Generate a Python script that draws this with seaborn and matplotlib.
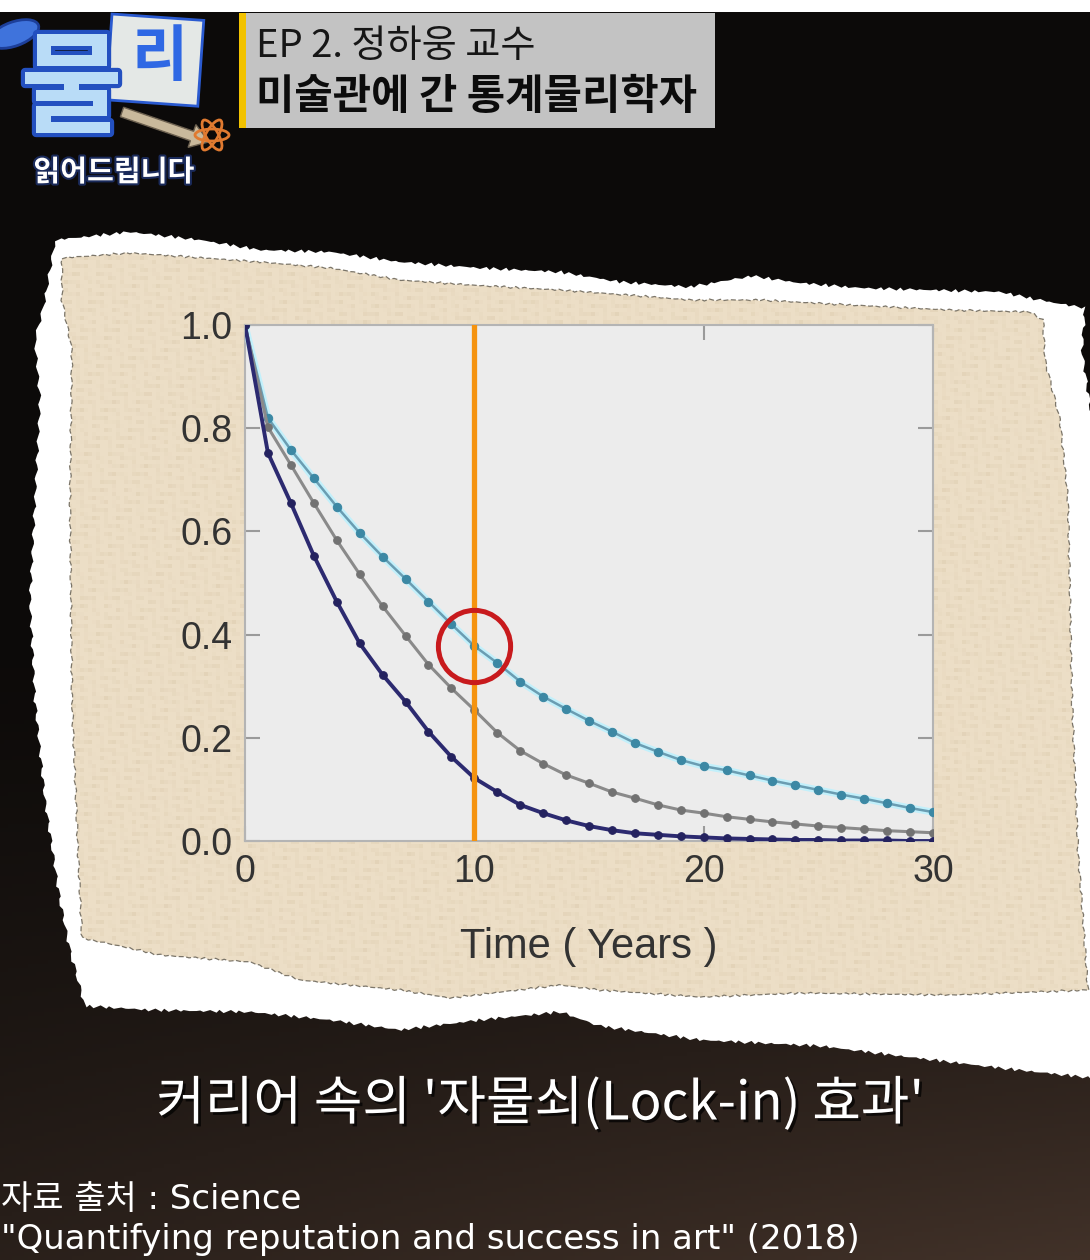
import numpy as np
import matplotlib.pyplot as plt
import matplotlib.patheffects as pe
from matplotlib.patches import Polygon, Rectangle, Ellipse, FancyArrow
import seaborn as sns

# 데이터
years = list(range(31))
light_blue = [1.0, 0.82, 0.758, 0.703, 0.648, 0.597, 0.551, 0.508, 0.464, 0.42,
              0.378, 0.345, 0.309, 0.28, 0.256, 0.233, 0.212, 0.19, 0.173, 0.157,
              0.145, 0.137, 0.127, 0.117, 0.108, 0.099, 0.09, 0.082, 0.073, 0.064, 0.056]
gray = [1.0, 0.802, 0.729, 0.655, 0.583, 0.517, 0.455, 0.398, 0.342, 0.296,
        0.254, 0.21, 0.175, 0.15, 0.128, 0.112, 0.095, 0.083, 0.07, 0.06,
        0.054, 0.047, 0.042, 0.037, 0.033, 0.029, 0.026, 0.023, 0.02, 0.018, 0.016]
navy = [1.0, 0.752, 0.655, 0.553, 0.464, 0.383, 0.322, 0.27, 0.212, 0.163,
        0.122, 0.095, 0.07, 0.054, 0.04, 0.029, 0.021, 0.015, 0.012, 0.009,
        0.007, 0.005, 0.004, 0.003, 0.002, 0.002, 0.001, 0.001, 0.001, 0.0, 0.0]
x_ticks = [0, 10, 20, 30]
y_ticks = [0.0, 0.2, 0.4, 0.6, 0.8, 1.0]
highlight_year = 10

title_top = "EP 2. 정하웅 교수"
title_bottom = "미술관에 간 통계물리학자"
caption = "커리어 속의 '자물쇠(Lock-in) 효과'"
source_1 = "자료 출처 : Science"
source_2 = "\"Quantifying reputation and success in art\" (2018)"

sns.set_style("ticks")
plt.rcParams["font.family"] = ["Noto Sans CJK KR", "DejaVu Sans"]

W, H = 1090, 1260
fig = plt.figure(figsize=(W / 100, H / 100), dpi=100)

# 배경 (픽셀 좌표)
bg = fig.add_axes([0, 0, 1, 1], zorder=0)
bg.set_xlim(0, W)
bg.set_ylim(H, 0)
bg.axis("off")

yy, xx = np.mgrid[0:H:4, 0:W:4]
t = np.clip((yy - 620) / 640, 0, 1) ** 1.3 * (0.55 + 0.45 * xx / W)
dark = np.array([12, 10, 9]) / 255
brown = np.array([66, 50, 41]) / 255
img = dark + t[..., None] * (brown - dark)
bg.imshow(img, extent=(0, W, H, 0), aspect="auto", zorder=0)
bg.add_patch(Rectangle((0, 0), W, 12, fc="white", ec="none", zorder=1))


def torn(pts, amp=1.3):
    pts = np.asarray(pts, float)
    out = []
    k = 0
    for a, b in zip(pts, np.roll(pts, -1, axis=0)):
        n = max(int(np.hypot(*(b - a)) / 5), 1)
        for s in np.linspace(0, 1, n, endpoint=False):
            p = a + s * (b - a)
            out.append((p[0] + amp * np.sin(1.7 * k), p[1] + amp * np.sin(2.9 * k + 1)))
            k += 1
    return np.array(out)


outer = [(55, 240), (130, 232), (200, 240), (260, 250), (330, 252), (400, 262),
         (480, 268), (560, 272), (620, 282), (690, 287), (752, 276), (800, 283),
         (860, 288), (930, 290), (1000, 292), (1050, 302), (1085, 308), (1082, 350),
         (1092, 420), (1092, 1078), (1000, 1068), (900, 1056), (820, 1046), (700, 1040),
         (600, 1026), (560, 1012), (480, 1020), (400, 1030), (330, 1020), (250, 1012),
         (150, 1010), (85, 1006), (70, 950), (60, 900), (45, 800), (35, 700), (30, 600),
         (35, 500), (40, 400), (35, 340), (45, 300)]
inner = [(62, 258), (130, 253), (175, 256), (260, 262), (330, 268), (400, 280),
         (470, 285), (560, 290), (640, 296), (690, 300), (760, 300), (850, 305),
         (950, 310), (1030, 312), (1043, 320), (1045, 360), (1060, 420), (1068, 500),
         (1072, 700), (1078, 850), (1088, 990), (950, 995), (800, 993), (700, 997),
         (600, 990), (560, 985), (450, 998), (400, 990), (300, 980), (250, 962),
         (160, 955), (120, 946), (82, 938), (78, 850), (72, 700), (70, 500),
         (72, 350), (62, 300)]
bg.add_patch(Polygon(torn(outer, 1.6), closed=True, fc="white", ec="none", zorder=2))
paper = Polygon(torn(inner, 1.0), closed=True, fc="#ecdec6", ec="#7a7468",
                lw=0.9, ls=(0, (4, 2)), zorder=3)
bg.add_patch(paper)
# 종이 질감 (규칙적인 패턴으로 아주 약하게)
grain = (np.sin(xx * 1.31 + yy * 0.47) * np.sin(yy * 1.17 - xx * 0.29)
         + 0.6 * np.sin(xx * 0.23 - yy * 0.61))
tex = np.ones(xx.shape + (4,))
tex[..., :3] = np.array([205, 185, 150]) / 255
tex[..., 3] = np.clip(grain, 0, None) * 0.18
tim = bg.imshow(tex, extent=(0, W, H, 0), aspect="auto", zorder=3.5)
tim.set_clip_path(paper)

# 로고
bg.add_patch(Ellipse((14, 34), 52, 24, angle=-20, fc="#3f73dc", ec="#1d3f9a", lw=2, zorder=4))
bg.add_patch(Rectangle((112, 14), 92, 86, angle=4, fc="#e4e8e6", ec="#2a5ad0", lw=2, zorder=4))
bg.text(160, 58, "리", fontsize=44, fontweight="bold", color="#2f68e4",
        ha="center", va="center", zorder=5)
bg.add_patch(FancyArrow(122, 112, 70, 24, width=10, head_width=24, head_length=18,
                        fc="#c9b99c", ec="#6d6150", lw=1, zorder=5))
for ang in (0, 60, 120):
    bg.add_patch(Ellipse((212, 135), 34, 12, angle=ang, fc="none", ec="#e07a30", lw=2, zorder=6))
bg.text(72, 92, "물", fontsize=80, fontweight="bold", color="#b9dcf7", ha="center",
        va="center", zorder=6,
        path_effects=[pe.withStroke(linewidth=6, foreground="#2350c0")])
bg.text(114, 172, "읽어드립니다", fontsize=21, fontweight="bold", color="white",
        ha="center", va="center", zorder=6,
        path_effects=[pe.withStroke(linewidth=3, foreground="#1a2a5a")])

# 제목 상자
bg.add_patch(Rectangle((239, 13), 476, 115, fc="#c3c3c3", ec="none", zorder=4))
bg.add_patch(Rectangle((239, 13), 7, 115, fc="#f2c200", ec="none", zorder=5))
bg.text(256, 46, title_top, fontsize=27.5, color="#161616", ha="left", va="center", zorder=6)
bg.text(256, 97, title_bottom, fontsize=30, fontweight="heavy", color="#0c0c0c",
        ha="left", va="center", zorder=6)

# 자막 및 출처
bg.text(540, 1104, caption, fontsize=38, fontweight="light", color="white",
        ha="center", va="center", zorder=6,
        path_effects=[pe.withSimplePatchShadow(offset=(2, -2), shadow_rgbFace="black", alpha=0.7)])
src_font = ["DejaVu Sans", "Noto Sans CJK KR"]
bg.text(1, 1199, source_1, fontsize=24.5, color="white", ha="left", va="center",
        family=src_font, zorder=6)
bg.text(1, 1239, source_2, fontsize=24.5, color="white", ha="left", va="center",
        family=src_font, zorder=6)

# 그래프
ax = fig.add_axes([245 / W, 1 - 841 / H, 688 / W, 516 / H], zorder=2)
ax.set_facecolor("#ececec")

sns.lineplot(x=years, y=light_blue, ax=ax, color="#c2f0fb", lw=5, zorder=3)
sns.lineplot(x=years, y=light_blue, ax=ax, color="#6a9db2", lw=1.8, marker="o",
             markersize=6, markerfacecolor="#3c88a4", markeredgecolor="#3c88a4", zorder=4)
sns.lineplot(x=years, y=gray, ax=ax, color="#8a8a8a", lw=2.2, marker="o",
             markersize=5.5, markerfacecolor="#727272", markeredgecolor="#727272", zorder=4)
sns.lineplot(x=years, y=navy, ax=ax, color="#2c2a70", lw=2.8, marker="o",
             markersize=5.5, markerfacecolor="#24225f", markeredgecolor="#24225f", zorder=5)

ax.axvline(highlight_year, color="#f5930f", lw=3.8, zorder=6)
ax.plot([highlight_year], [light_blue[highlight_year]], marker="o", ms=52,
        mfc="none", mec="#c81a1d", mew=3.6, zorder=7)

ax.set_xlim(0, 30)
ax.set_ylim(0, 1.0)
ax.set_xticks(x_ticks)
ax.set_yticks(y_ticks)
ax.set_yticklabels([f"{v:.1f}" for v in y_ticks])
ax.tick_params(direction="in", length=11, width=1.5, color="#9a9a9a",
               top=True, right=True, labelsize=27, labelcolor="#333333", pad=9)
for lab in ax.get_xticklabels() + ax.get_yticklabels():
    lab.set_family("Liberation Sans")
for sp in ax.spines.values():
    sp.set_color("#b4b4b4")
    sp.set_linewidth(1.5)
ax.set_xlabel("Time ( Years )", fontsize=30, color="#333333", family="Liberation Sans",
              labelpad=27)
ax.set_ylabel("")

fig.savefig("out.png", dpi=100)
